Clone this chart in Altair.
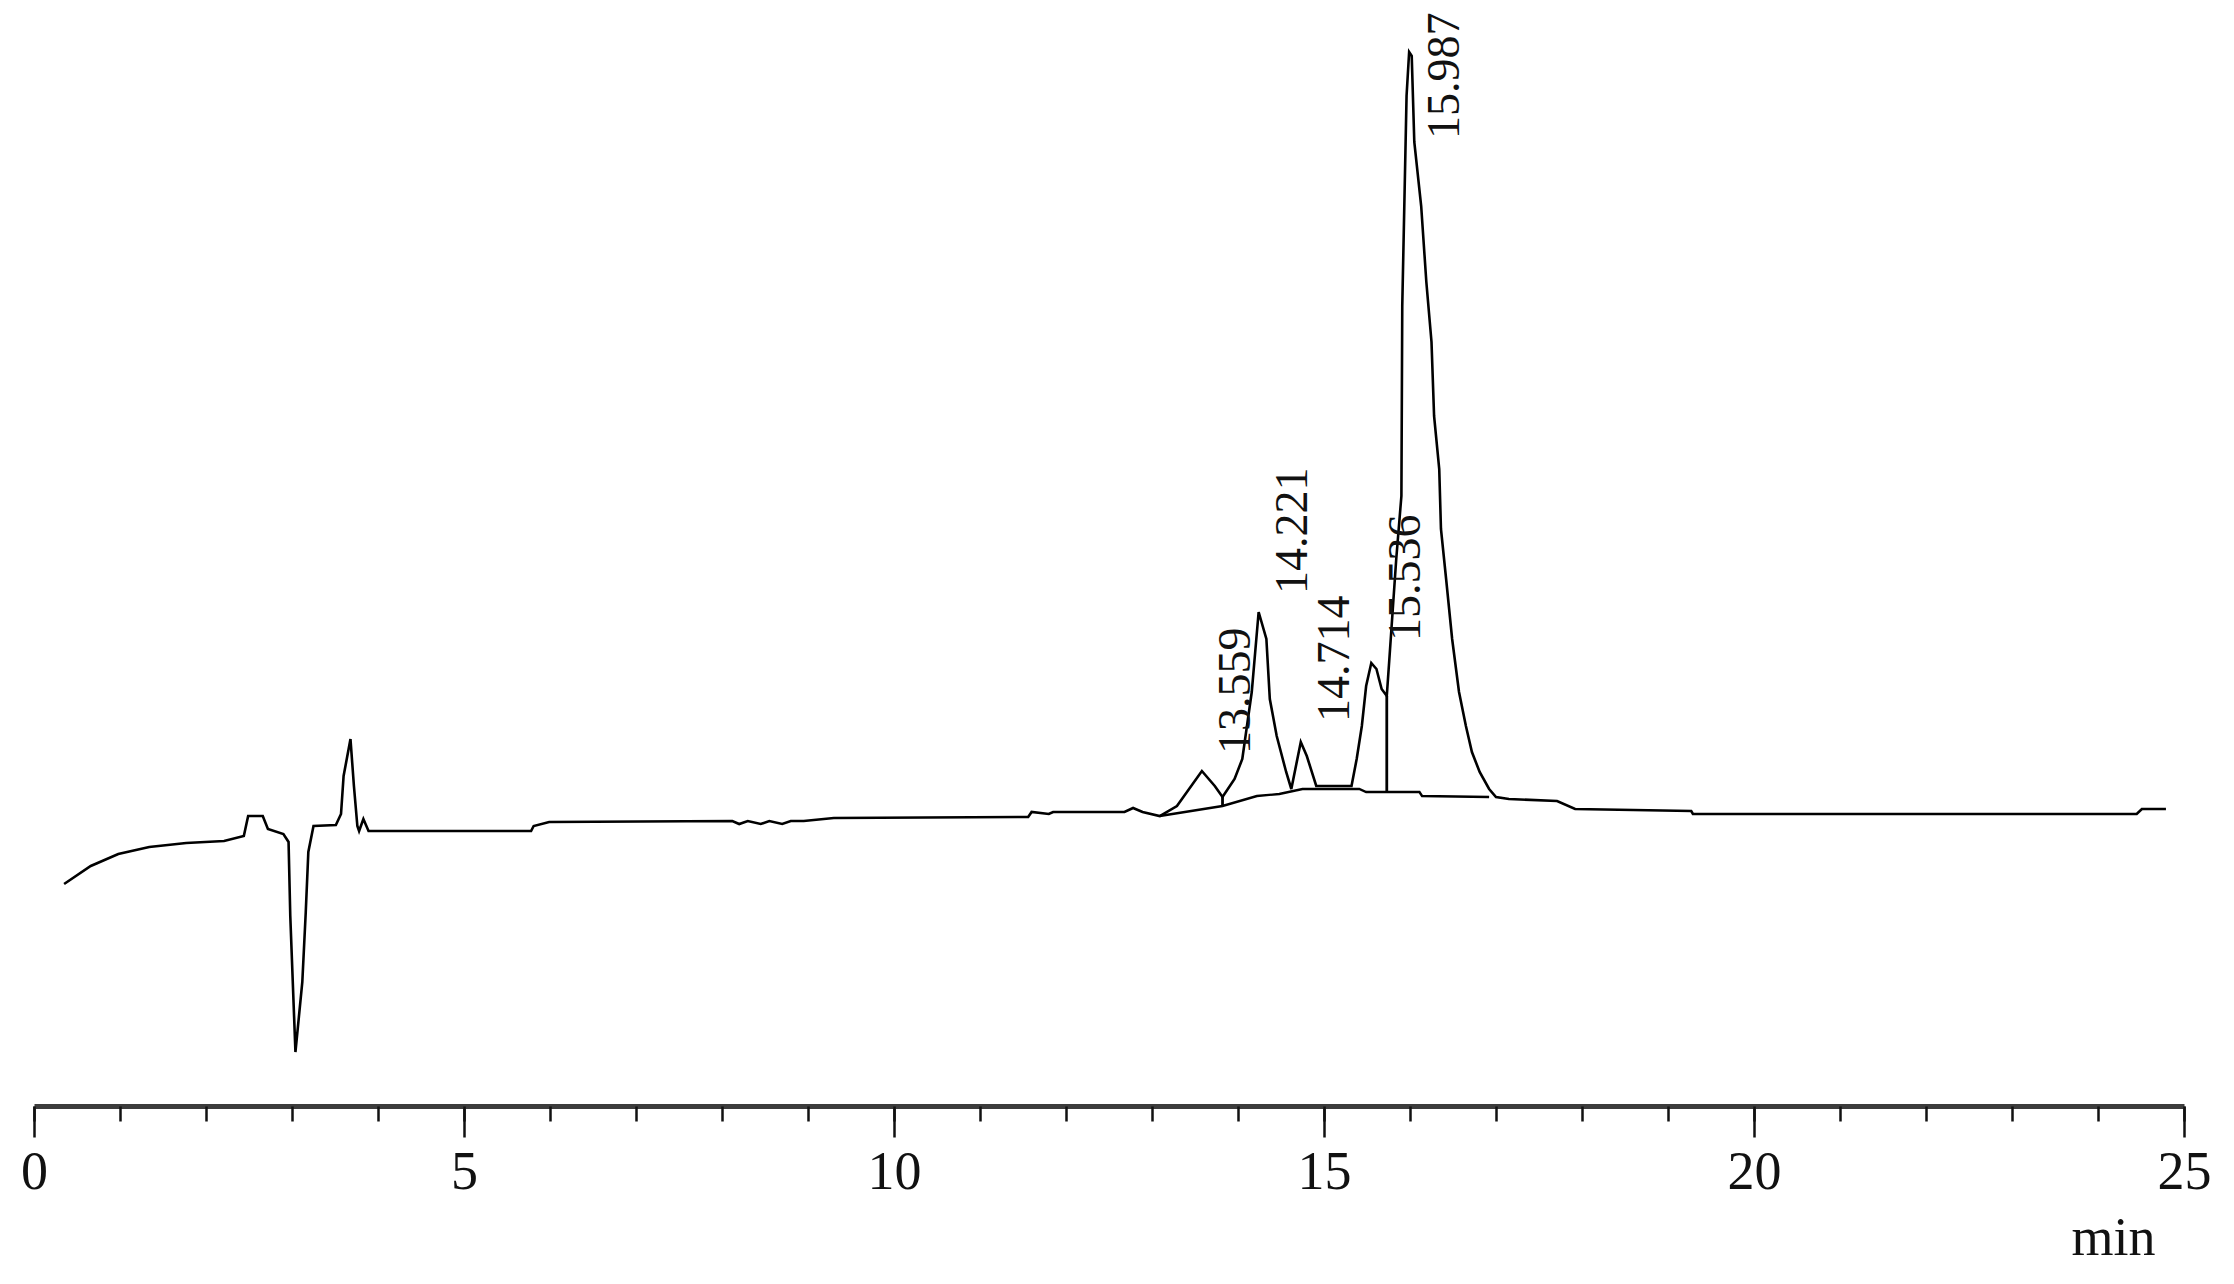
import altair as alt
import pandas as pd

# ---- data (time in min, signal in arbitrary units) ----
times = [0.35, 0.66, 0.98, 1.34, 1.77, 2.21, 2.44, 2.49, 2.66, 2.72, 2.90, 2.96, 2.98, 3.04,
         3.12, 3.16, 3.19, 3.25, 3.51, 3.57, 3.60, 3.68, 3.72, 3.76, 3.78, 3.83, 3.89, 4.03,
         5.78, 5.81, 5.99, 8.12, 8.20, 8.30, 8.45, 8.55, 8.70, 8.80, 8.95, 9.30, 11.56, 11.60,
         11.80, 11.85, 12.68, 12.78, 12.89, 13.09, 13.29, 13.58, 13.73, 13.82, 13.96, 14.05,
         14.16, 14.24, 14.33, 14.37, 14.45, 14.56, 14.62, 14.73, 14.80, 14.91, 15.32, 15.38,
         15.44, 15.49, 15.55, 15.61, 15.67, 15.73, 15.76, 15.80, 15.84, 15.90, 15.91, 15.96,
         15.99, 16.02, 16.05, 16.13, 16.19, 16.25, 16.28, 16.34, 16.36, 16.42, 16.49, 16.57,
         16.65, 16.72, 16.81, 16.92, 17.00, 17.15, 17.71, 17.92, 19.27, 19.29, 24.45, 24.51,
         24.79]
signal = [-6.5, -4.7, -3.5, -2.8, -2.4, -2.2, -1.7, 0.3, 0.3, -1.0, -1.5, -2.3, -9.7, -23.3,
          -16.3, -9.3, -3.3, -0.7, -0.6, 0.5, 4.3, 8.0, 3.3, -0.7, -1.2, 0.0, -1.2, -1.2,
          -1.2, -0.7, -0.3, -0.2, -0.5, -0.2, -0.5, -0.2, -0.5, -0.2, -0.2, 0.1, 0.2, 0.7,
          0.5, 0.7, 0.7, 1.1, 0.7, 0.3, 1.3, 4.8, 3.3, 2.2, 4.0, 6.0,
          12.7, 20.7, 18.0, 12.0, 8.3, 4.7, 3.0, 7.7, 6.3, 3.3, 3.3, 6.0,
          9.3, 13.3, 15.6, 15.0, 13.0, 12.3, 16.0, 21.0, 26.0, 32.3, 51.3, 72.3,
          76.7, 76.3, 67.7, 61.3, 53.7, 47.7, 40.3, 35.0, 29.0, 24.0, 18.0, 12.7,
          9.3, 6.7, 4.7, 3.0, 2.2, 2.0, 1.8, 1.0, 0.8, 0.5, 0.5, 1.0,
          1.0]

# integration baseline under the peak cluster
base_t = [13.09, 13.82, 14.22, 14.48, 14.75, 15.41, 15.49, 16.11, 16.14, 16.92]
base_i = [0.3, 1.3, 2.3, 2.5, 3.0, 3.0, 2.7, 2.7, 2.3, 2.2]

# drop lines (valley to baseline)
drop_t = [13.82, 15.73]
drop_top = [2.2, 12.3]
drop_bottom = [1.3, 2.7]

# peak labels
peak_rt = [13.559, 14.221, 14.714, 15.536, 15.987]
peak_label = ["13.559", "14.221", "14.714", "15.536", "15.987"]
label_at = [6.5, 22.5, 9.7, 17.8, 68.0]

major_ticks = [0, 5, 10, 15, 20, 25]
minor_ticks = list(range(0, 26))

SERIF = "Liberation Serif"

trace = pd.DataFrame({"t": times, "I": signal})
base_df = pd.DataFrame({"t": base_t, "I": base_i})
drop_df = pd.DataFrame({"t": drop_t, "I1": drop_top, "I0": drop_bottom})
lab_df = pd.DataFrame({"t": peak_rt, "I": label_at, "label": peak_label})

xscale = alt.Scale(domain=[0, 25], nice=False, zero=False)
yscale = alt.Scale(domain=[-28.7, 80], nice=False, zero=False)

major_axis = alt.Axis(
    orient="bottom", values=major_ticks, tickSize=31, tickWidth=2.5, tickColor="#111111",
    domainWidth=5, domainColor="#3c3c3c", grid=False,
    labelFont=SERIF, labelFontSize=54, labelColor="#111111", labelPadding=8,
    labelFlush=False, labelOverlap=False,
    title="min", titleFont=SERIF, titleFontSize=54, titleFontWeight="normal",
    titleColor="#111111", titleX=2079, titleY=148, titleAlign="center",
    titleBaseline="alphabetic", titleAnchor="start",
)
minor_axis = alt.Axis(
    orient="bottom", values=minor_ticks, tickSize=15, tickWidth=2.5, tickColor="#111111",
    domain=False, labels=False, grid=False, title=None,
)

line = alt.Chart(trace).mark_line(color="black", strokeWidth=2.6).encode(
    x=alt.X("t:Q", scale=xscale, axis=major_axis),
    y=alt.Y("I:Q", scale=yscale, axis=None),
    order="t:Q",
)
base_line = alt.Chart(base_df).mark_line(color="black", strokeWidth=2.4).encode(
    x=alt.X("t:Q", scale=xscale, axis=minor_axis),
    y=alt.Y("I:Q", scale=yscale, axis=None),
)
drops = alt.Chart(drop_df).mark_rule(color="black", strokeWidth=2.8).encode(
    x=alt.X("t:Q", scale=xscale, axis=None),
    y=alt.Y("I1:Q", scale=yscale, axis=None),
    y2="I0:Q",
)
labels = alt.Chart(lab_df).mark_text(
    angle=270, align="left", baseline="middle", dy=36,
    font=SERIF, fontSize=46, color="#111111",
).encode(
    x=alt.X("t:Q", scale=xscale, axis=None),
    y=alt.Y("I:Q", scale=yscale, axis=None),
    text="label:N",
)

chart = (
    alt.layer(line, base_line, drops, labels)
    .resolve_axis(x="independent")
    .properties(width=2150, height=1087,
                padding={"left": 12, "top": 4, "right": 6, "bottom": 6},
                background="white")
    .configure_view(stroke=None)
)

chart.save("out.html", embed_options={"renderer": "svg", "actions": False})
